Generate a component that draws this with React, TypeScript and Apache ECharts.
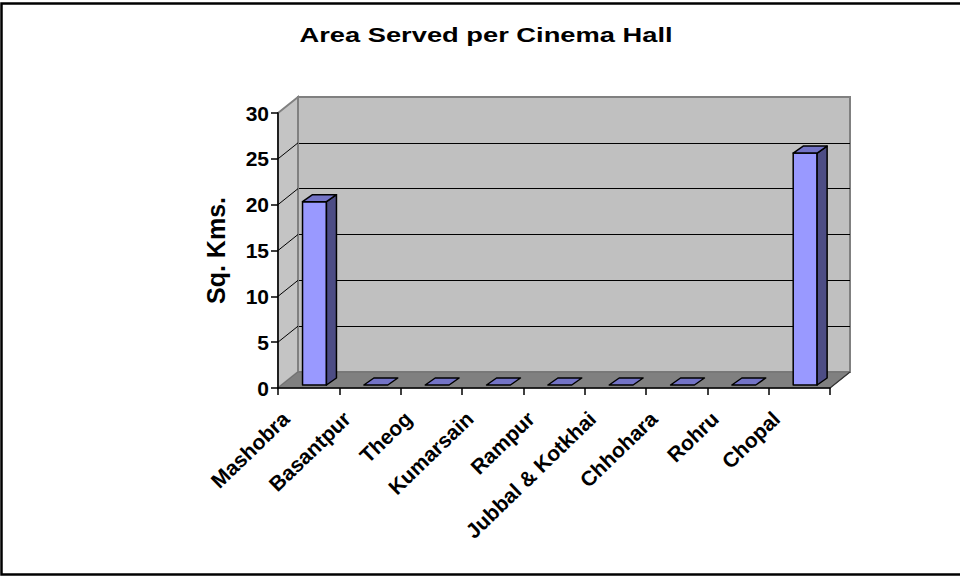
import React, { useEffect, useRef } from "react";
import * as echarts from "echarts";

const chartTitle = "Area Served per Cinema Hall";
const yAxisTitle = "Sq. Kms.";
const categories = [
  "Mashobra",
  "Basantpur",
  "Theog",
  "Kumarsain",
  "Rampur",
  "Jubbal & Kotkhai",
  "Chhohara",
  "Rohru",
  "Chopal",
];
const values = [20, 0, 0, 0, 0, 0, 0, 0, 25.3];
const yMin = 0;
const yMax = 30;
const yStep = 5;
const yTickValues = [0, 5, 10, 15, 20, 25, 30];

// 3D geometry
const WALL_DX = 20;
const WALL_DY = -16;
const BAR_DX = 10;
const BAR_DY = -7;
const BAR_SHIFT_Y = -3;

const FONT = "Liberation Sans";

export default function App() {
  const ref = useRef<HTMLDivElement>(null);

  useEffect(() => {
    document.body.style.margin = "0";
    const chart = echarts.init(ref.current!, undefined, { renderer: "svg" });

    const option: any = {
      animation: false,
      backgroundColor: "#ffffff",
      graphic: [
        {
          type: "rect",
          shape: { x: 1.5, y: 3.5, width: 990, height: 571 },
          style: { fill: "none", stroke: "#000", lineWidth: 2.5 },
          z: 100,
        },
        {
          type: "text",
          x: 486,
          y: 35,
          scaleX: 1.3,
          style: {
            text: chartTitle,
            font: `bold 21px "${FONT}"`,
            fill: "#000",
            textAlign: "center",
            textVerticalAlign: "middle",
          },
          z: 100,
        },
      ],
      grid: [
        { left: 278, top: 113, width: 552, height: 275 },
        {
          left: 278 + WALL_DX,
          top: 113 + WALL_DY,
          width: 552,
          height: 275,
          show: true,
          backgroundColor: "#c0c0c0",
          borderColor: "#808080",
          borderWidth: 2,
        },
      ],
      xAxis: [
        {
          gridIndex: 0,
          type: "category",
          data: categories,
          z: 10,
          axisLine: { show: true, lineStyle: { color: "#000", width: 1.5 } },
          axisTick: { show: true, length: 7, lineStyle: { color: "#000", width: 1.5 } },
          axisLabel: {
            rotate: 44,
            interval: 0,
            margin: 5,
            padding: [0, 32, 0, 0],
            color: "#000",
            fontFamily: FONT,
            fontWeight: "bold",
            fontSize: 21,
          },
        },
        {
          gridIndex: 1,
          type: "category",
          data: categories,
          show: false,
        },
      ],
      yAxis: [
        {
          gridIndex: 0,
          type: "value",
          min: yMin,
          max: yMax,
          interval: yStep,
          z: 10,
          name: yAxisTitle,
          nameLocation: "middle",
          nameGap: 50,
          nameTextStyle: {
            color: "#000",
            fontFamily: FONT,
            fontWeight: "bold",
            fontSize: 25,
          },
          axisLine: { show: true, lineStyle: { color: "#000", width: 1.5 } },
          axisTick: { show: true, length: 7, lineStyle: { color: "#000", width: 1.5 } },
          splitLine: { show: false },
          axisLabel: {
            margin: 9,
            color: "#000",
            fontFamily: FONT,
            fontWeight: "bold",
            fontSize: 21,
          },
        },
        {
          gridIndex: 1,
          type: "value",
          min: yMin,
          max: yMax,
          interval: yStep,
          axisLine: { show: false },
          axisTick: { show: false },
          axisLabel: { show: false },
          splitLine: {
            show: true,
            showMinLine: false,
            showMaxLine: false,
            lineStyle: { color: "#000", width: 1 },
          },
        },
      ],
      series: [
        {
          type: "custom",
          name: "walls",
          xAxisIndex: 0,
          yAxisIndex: 0,
          z: 1,
          silent: true,
          data: [[0, yMin]],
          renderItem: (params: any, api: any) => {
            const cs = params.coordSys;
            const L = cs.x;
            const R = cs.x + cs.width;
            const T = api.coord([0, yMax])[1];
            const B = api.coord([0, yMin])[1];
            return {
              type: "group",
              children: [
                {
                  type: "polygon",
                  shape: {
                    points: [
                      [L, T],
                      [L + WALL_DX, T + WALL_DY],
                      [L + WALL_DX, B + WALL_DY],
                      [L, B],
                    ],
                  },
                  style: { fill: "#c4c4c4", stroke: "#808080", lineWidth: 2 },
                },
                {
                  type: "polygon",
                  shape: {
                    points: [
                      [L, B],
                      [L + WALL_DX, B + WALL_DY],
                      [R + WALL_DX, B + WALL_DY],
                      [R, B],
                    ],
                  },
                  style: { fill: "#808080", stroke: "#707070", lineWidth: 1 },
                },
                {
                  type: "line",
                  shape: { x1: R, y1: B, x2: R + WALL_DX, y2: B + WALL_DY },
                  style: { stroke: "#333", lineWidth: 1.2 },
                },
              ],
            };
          },
        },
        {
          type: "custom",
          name: "tickDiagonals",
          xAxisIndex: 0,
          yAxisIndex: 0,
          z: 1,
          silent: true,
          data: yTickValues.filter((v) => v > yMin && v < yMax).map((v) => [0, v]),
          renderItem: (params: any, api: any) => {
            const L = params.coordSys.x;
            const y = api.coord([0, api.value(1)])[1];
            return {
              type: "line",
              shape: { x1: L, y1: y, x2: L + WALL_DX, y2: y + WALL_DY },
              style: { stroke: "#000", lineWidth: 1 },
            };
          },
        },
        {
          type: "custom",
          name: "Area Served",
          xAxisIndex: 0,
          yAxisIndex: 0,
          z: 3,
          data: values.map((v, i) => [i, v]),
          renderItem: (params: any, api: any) => {
            const idx = api.value(0);
            const v = api.value(1);
            const base = api.coord([idx, 0]);
            const topP = api.coord([idx, v]);
            const band = api.size([1, 0])[0];
            const x0 = base[0] - band * 0.1;
            const w = band * 0.39;
            const yb = base[1] + BAR_SHIFT_Y;
            const yt = topP[1] + BAR_SHIFT_Y;
            const stroke = { stroke: "#000", lineWidth: 1.5, lineJoin: "round" };
            const topFace = {
              type: "polygon",
              shape: {
                points: [
                  [x0, yt],
                  [x0 + BAR_DX, yt + BAR_DY],
                  [x0 + w + BAR_DX, yt + BAR_DY],
                  [x0 + w, yt],
                ],
              },
              style: { fill: "#7373c6", ...stroke },
            };
            if (v <= 0) {
              return { type: "group", children: [topFace] };
            }
            return {
              type: "group",
              children: [
                {
                  type: "rect",
                  shape: { x: x0, y: yt, width: w, height: yb - yt },
                  style: { fill: "#9999ff", ...stroke },
                },
                {
                  type: "polygon",
                  shape: {
                    points: [
                      [x0 + w, yt],
                      [x0 + w + BAR_DX, yt + BAR_DY],
                      [x0 + w + BAR_DX, yb + BAR_DY],
                      [x0 + w, yb],
                    ],
                  },
                  style: { fill: "#4d4d85", ...stroke },
                },
                topFace,
              ],
            };
          },
        },
      ],
    };

    chart.setOption(option);
    return () => chart.dispose();
  }, []);

  return <div ref={ref} style={{ width: 960, height: 577 }} />;
}
